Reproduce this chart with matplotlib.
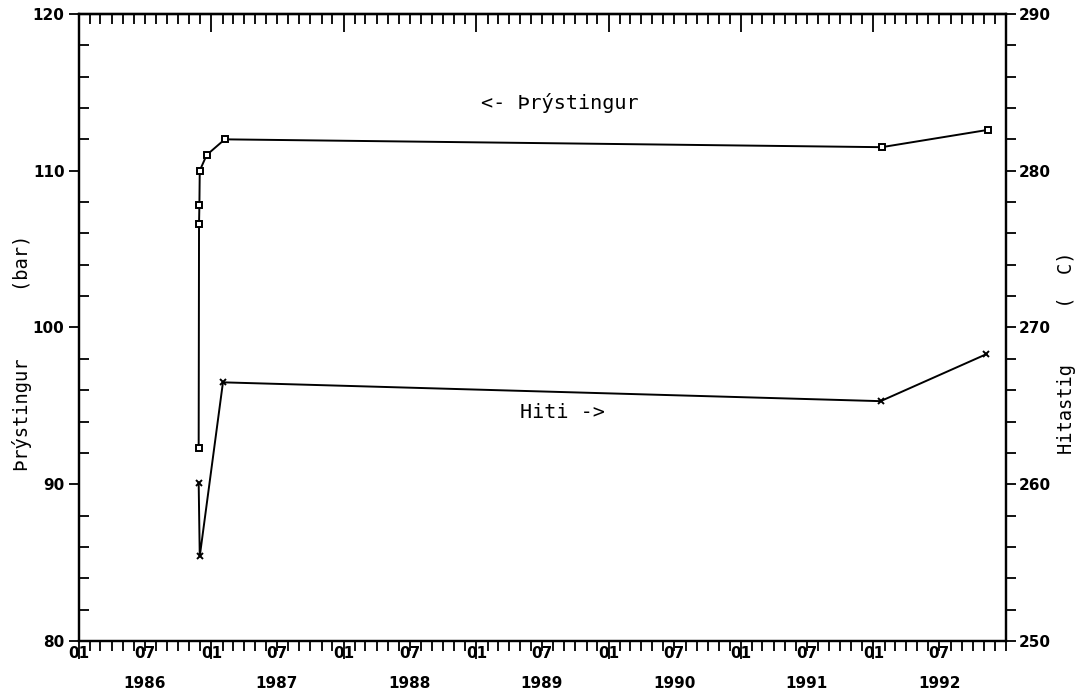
import datetime as dt
import matplotlib
matplotlib.use("Agg")
import matplotlib.pyplot as plt
import matplotlib.dates as mdates
from matplotlib.ticker import MultipleLocator, FixedLocator

# Þrýstingur (bar), left axis
p_dates = ["1986-11-27", "1986-11-28", "1986-11-29", "1986-11-30", "1986-12-19", "1987-02-07", "1992-01-24", "1992-11-11"]
p_values = [92.3, 106.6, 107.8, 110.0, 111.0, 112.0, 111.5, 112.6]

# Hitastig (C), right axis
t_dates = ["1986-11-27", "1986-11-30", "1987-02-02", "1992-01-21", "1992-11-08"]
t_values = [260.1, 255.4, 266.5, 265.3, 268.3]

years = [1986, 1987, 1988, 1989, 1990, 1991, 1992]

to_date = lambda s: dt.datetime.strptime(s, "%Y-%m-%d")
p_x = [to_date(s) for s in p_dates]
t_x = [to_date(s) for s in t_dates]

mono = "DejaVu Sans Mono"

fig = plt.figure(figsize=(10.84, 6.96), dpi=100)
ax = fig.add_axes([0.0729, 0.079, 0.8552, 0.901])
ax2 = ax.twinx()

ax.plot(p_x, p_values, color="black", lw=1.4, marker="s", ms=5,
        mfc="white", mec="black", mew=1.4)
ax2.plot(t_x, t_values, color="black", lw=1.4, marker="x", ms=5, mew=1.4)

ax.set_xlim(dt.datetime(1986, 1, 1), dt.datetime(1993, 1, 1))
ax.set_ylim(80, 120)
ax2.set_ylim(250, 290)

# x ticks: 01 and 07 labelled, year under 07
major = []
labels = []
for y in years:
    major.append(dt.datetime(y, 1, 1))
    labels.append("01")
    major.append(dt.datetime(y, 7, 1))
    labels.append("07\n%d" % y)
ax.xaxis.set_major_locator(FixedLocator(mdates.date2num(major)))
ax.set_xticklabels(labels, fontsize=11, fontweight="bold", linespacing=2.3)
for lab in ax.get_xticklabels():
    lab.set_verticalalignment("top")
ax.xaxis.set_minor_locator(mdates.MonthLocator())
ax.tick_params(axis="x", which="both", direction="out", top=False)
ax.tick_params(axis="x", which="minor", length=7, width=1.3)
ax.tick_params(axis="x", which="major", pad=0)
for tk, d in zip(ax.xaxis.get_major_ticks(), major):
    tk.tick1line.set_markersize(13 if d.month == 1 else 7)
    tk.tick1line.set_markeredgewidth(1.3)

top = ax.secondary_xaxis("top")
top.xaxis.set_major_locator(FixedLocator(mdates.date2num([d for d in major if d.month == 1])))
top.xaxis.set_minor_locator(mdates.MonthLocator())
top.tick_params(which="both", direction="in", labeltop=False)
top.tick_params(which="major", length=13, width=1.3)
top.tick_params(which="minor", length=7, width=1.3)
top.spines["top"].set_linewidth(1.6)

# left y axis
ax.yaxis.set_major_locator(MultipleLocator(10))
ax.yaxis.set_minor_locator(MultipleLocator(2))
ax.tick_params(axis="y", which="major", direction="out", length=7, width=1.3,
               labelsize=11)
ax.tick_params(axis="y", which="minor", direction="in", length=7, width=1.3)
for lab in ax.get_yticklabels():
    lab.set_fontweight("bold")

# right y axis
ax2.yaxis.set_major_locator(MultipleLocator(10))
ax2.yaxis.set_minor_locator(MultipleLocator(2))
ax2.tick_params(axis="y", which="major", direction="out", length=7, width=1.3,
                labelsize=11, pad=2)
ax2.tick_params(axis="y", which="minor", direction="out", length=7, width=1.3)
for lab in ax2.get_yticklabels():
    lab.set_fontweight("bold")

for sp in ax.spines.values():
    sp.set_linewidth(1.6)
for sp in ax2.spines.values():
    sp.set_linewidth(1.6)

ax.set_ylabel("Þrýstingur      (bar)", family=mono, fontsize=13.5)
ax.yaxis.set_label_coords(-0.051, 0.46)
ax2.set_ylabel("Hitastig     (  C)", family=mono, fontsize=13.5)
ax2.yaxis.set_label_coords(1.055, 0.46)

ax.text(0.519, 0.858, "<- Þrýstingur", transform=ax.transAxes, family=mono,
        fontsize=14.5, ha="center", va="center")
ax.text(0.522, 0.364, "Hiti ->", transform=ax.transAxes, family=mono,
        fontsize=14.5, ha="center", va="center")

fig.savefig("out.png", dpi=100)
